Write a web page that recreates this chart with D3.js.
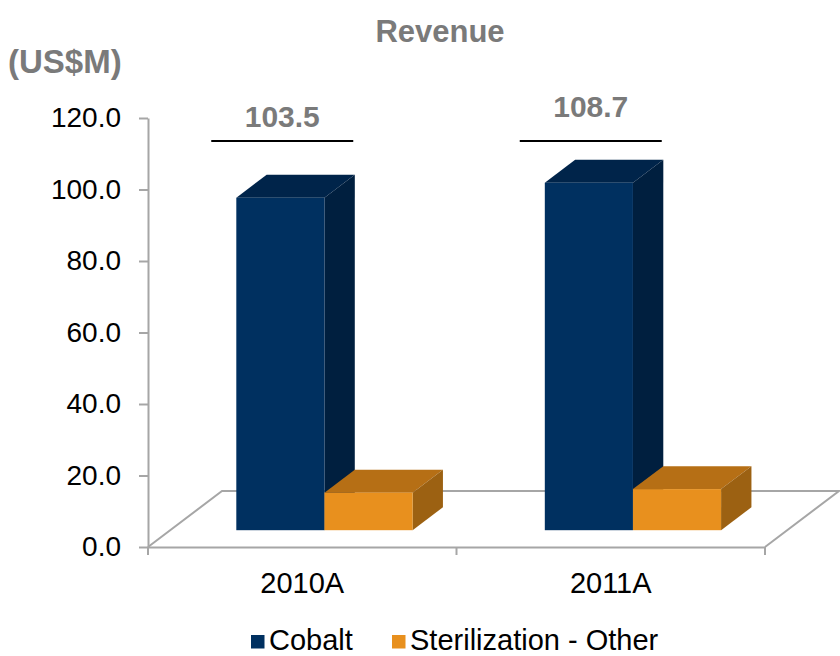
<!DOCTYPE html>
<meta charset="utf-8" />
<style>
    body { margin: 0; background: #fff; }
    text { font-family: Arial, "Liberation Sans", sans-serif; }
</style>
<title>Revenue</title>
<body></body>
<script src="https://d3js.org/d3.v7.min.js"></script>
<script>

    // data
    var categories = ["2010A", "2011A"];
    var seriesNames = ["Cobalt", "Sterilization - Other"];
    var cobalt = [93.0, 97.2];
    var sterilization = [10.5, 11.5];
    var yTicks = [0, 20, 40, 60, 80, 100, 120];

    var totals = categories.map(function (c, i) { return cobalt[i] + sterilization[i]; });
    var values = [cobalt, sterilization];

    var svgWidth = 840, svgHeight = 656;
    var margin = {top: 118, right: 75, bottom: 109, left: 148};

    // floor depth of the 3d box and where the bars sit inside it
    var depth = {x: 74, y: -56};
    var barFront = 0.30, barDepth = 0.41;

    var colors = [
        {front: "#003060", top: "#00244a", side: "#001f3f"},
        {front: "#e8901e", top: "#b66f15", side: "#9c6112"}
    ];
    var axisColor = "#a6a6a6";

    var svg = d3.select("body")
        .append("svg")
        .attr("width", svgWidth)
        .attr("height", svgHeight);

    var x0 = d3.scaleBand()
        .domain(categories)
        .range([margin.left, svgWidth - margin.right]);

    var x1 = d3.scaleBand()
        .domain(d3.range(seriesNames.length))
        .range([0, x0.bandwidth()])
        .paddingOuter(0.75);

    var y = d3.scaleLinear()
        .domain([0, 120])
        .range([svgHeight - margin.bottom, margin.top]);

    var floorY = y(0), left = x0.range()[0], right = x0.range()[1];

    // floor outline (drawn first so bars cover the back edge)
    var floor = svg.append("g")
        .attr("fill", "none")
        .attr("stroke", axisColor)
        .attr("stroke-width", 2);

    floor.append("path")
        .attr("d", "M" + left + "," + floorY +
            "L" + (left + depth.x) + "," + (floorY + depth.y) +
            "L" + (right + depth.x) + "," + (floorY + depth.y) +
            "L" + right + "," + floorY);

    // y axis
    var gy = svg.append("g")
        .attr("transform", "translate(" + left + ",0)")
        .call(d3.axisLeft(y)
            .tickValues(yTicks)
            .tickFormat(d3.format(".1f"))
            .tickSizeInner(9)
            .tickSizeOuter(0)
            .tickPadding(18));
    gy.selectAll("path, line").attr("stroke", axisColor).attr("stroke-width", 2);
    gy.selectAll("text")
        .attr("fill", "#000")
        .style("font-size", "28px");

    // x axis: front edge, ticks at the category boundaries, labels at centres
    var gx = svg.append("g")
        .attr("transform", "translate(0," + floorY + ")")
        .call(d3.axisBottom(x0).tickSize(0).tickPadding(25));
    gx.select(".domain").attr("stroke", axisColor).attr("stroke-width", 2);
    gx.selectAll("text")
        .attr("fill", "#000")
        .style("font-size", "29px");

    var bounds = categories.map(function (c) { return x0(c); }).concat([right]);
    gx.selectAll(".bound")
        .data(bounds)
        .enter().append("line")
        .attr("class", "bound")
        .attr("x1", function (d) { return d; })
        .attr("x2", function (d) { return d; })
        .attr("y1", 0)
        .attr("y2", 8)
        .attr("stroke", axisColor)
        .attr("stroke-width", 2);

    // 3d bars
    var bars = [];
    categories.forEach(function (c, i) {
        values.forEach(function (vals, s) {
            bars.push({cat: c, s: s, v: vals[i]});
        });
    });

    var fdx = depth.x * barFront, fdy = depth.y * barFront;
    var bdx = depth.x * barDepth, bdy = depth.y * barDepth;

    function pts(a) {
        return a.map(function (p) { return p.join(","); }).join(" ");
    }

    var barG = svg.selectAll(".bar")
        .data(bars)
        .enter().append("g")
        .attr("class", "bar");

    barG.each(function (d) {
        var g = d3.select(this);
        var xl = x0(d.cat) + x1(d.s) + fdx;
        var xr = xl + x1.bandwidth();
        var yt = y(d.v) + fdy;
        var yb = y(0) + fdy;
        var c = colors[d.s];

        g.append("polygon")
            .attr("points", pts([[xl, yt], [xr, yt], [xr + bdx, yt + bdy], [xl + bdx, yt + bdy]]))
            .attr("fill", c.top);
        g.append("polygon")
            .attr("points", pts([[xr, yt], [xr + bdx, yt + bdy], [xr + bdx, yb + bdy], [xr, yb]]))
            .attr("fill", c.side);
        g.append("rect")
            .attr("x", xl)
            .attr("y", yt)
            .attr("width", xr - xl)
            .attr("height", yb - yt)
            .attr("fill", c.front);
    });

    // total labels with a rule under them
    var lineY = 141, lineHalf = 71, shift = -20;

    var tot = svg.selectAll(".total")
        .data(totals)
        .enter().append("g")
        .attr("class", "total");

    tot.append("line")
        .attr("x1", function (d, i) { return x0(categories[i]) + x0.bandwidth() / 2 + shift - lineHalf; })
        .attr("x2", function (d, i) { return x0(categories[i]) + x0.bandwidth() / 2 + shift + lineHalf; })
        .attr("y1", lineY)
        .attr("y2", lineY)
        .attr("stroke", "#000")
        .attr("stroke-width", 2);

    tot.append("text")
        .attr("x", function (d, i) { return x0(categories[i]) + x0.bandwidth() / 2 + shift; })
        // label sits partway between the bar top and the chart top
        .attr("y", function (d) { return y(d) * 0.54 + 31; })
        .attr("text-anchor", "middle")
        .attr("fill", "#7a7a7a")
        .style("font-size", "30px")
        .style("font-weight", "bold")
        .text(function (d) { return d3.format(".1f")(d); });

    // titles
    svg.append("text")
        .attr("x", 440)
        .attr("y", 42)
        .attr("text-anchor", "middle")
        .attr("fill", "#7a7a7a")
        .style("font-size", "31px")
        .style("font-weight", "bold")
        .text("Revenue");

    svg.append("text")
        .attr("x", 8)
        .attr("y", 73)
        .attr("fill", "#7a7a7a")
        .style("font-size", "33px")
        .style("font-weight", "bold")
        .text("(US$M)");

    // legend
    var legendX = [251, 392];
    var legend = svg.selectAll(".legend")
        .data(seriesNames)
        .enter().append("g")
        .attr("class", "legend")
        .attr("transform", function (d, i) { return "translate(" + legendX[i] + ",635)"; });

    legend.append("rect")
        .attr("width", 13.5)
        .attr("height", 13.5)
        .attr("fill", function (d, i) { return colors[i].front; });

    legend.append("text")
        .attr("x", 18)
        .attr("y", 15)
        .attr("fill", "#000")
        .style("font-size", "29px")
        .text(function (d) { return d; });

</script>
